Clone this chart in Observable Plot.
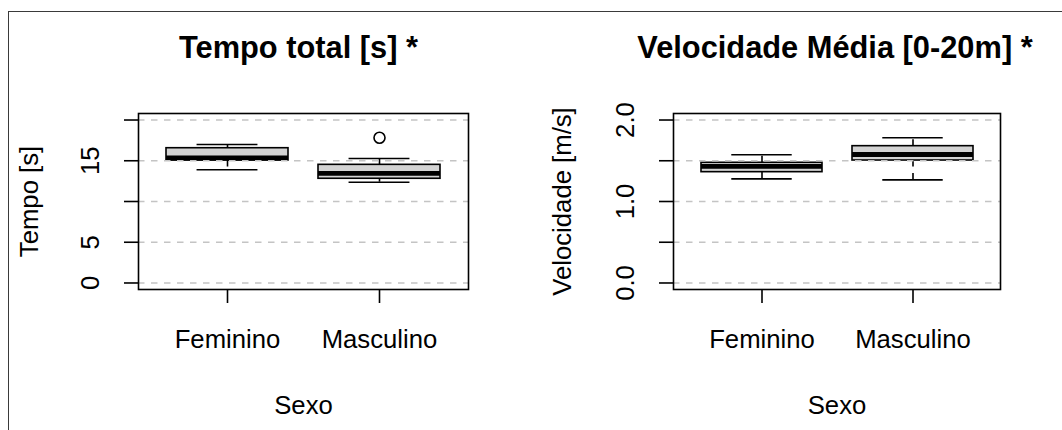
<!DOCTYPE html>
<html><head><meta charset="utf-8">
<script src="https://cdn.jsdelivr.net/npm/d3@7"></script>
<script src="https://cdn.jsdelivr.net/npm/@observablehq/plot@0.6"></script>
<style>
body{margin:0;background:#fff;}
#wrap{position:relative;width:1062px;height:430px;overflow:hidden;background:#fff;font-family:"Liberation Sans",Arial,sans-serif;}
#wrap svg{position:absolute;top:0;}
#border{position:absolute;left:7.5px;top:11px;right:-10px;bottom:-10px;border-top:1.6px solid #3a3a3a;border-left:1.6px solid #3a3a3a;pointer-events:none;z-index:5;}
</style></head><body><div id="wrap"><div id="border"></div></div>
<script>
// categories
const categories = ["Feminino", "Masculino"];

// Tempo total [s] — five-number summaries
const tempoMin = [13.89, 12.37];
const tempoQ1  = [15.03, 12.79];
const tempoMed = [15.34, 13.46];
const tempoQ3  = [16.54, 14.50];
const tempoMax = [16.99, 15.28];
const tempoOutCat = ["Masculino"];
const tempoOutVal = [17.82];
const tempoTicks = [0, 5, 10, 15, 20];
const tempoTickLabelVals = [0, 5, 15];
const tempoTickLabels = ["0", "5", "15"];

// Velocidade Média [0-20m]
const velMin = [1.278, 1.266];
const velQ1  = [1.360, 1.503];
const velMed = [1.430, 1.577];
const velQ3  = [1.475, 1.679];
const velMax = [1.573, 1.782];
const velOutCat = [];
const velOutVal = [];
const velTicks = [0, 0.5, 1, 1.5, 2];
const velTickLabelVals = [0, 1, 2];
const velTickLabels = ["0.0", "1.0", "2.0"];

function rowsOf(mn, q1, md, q3, mx) {
  return categories.map((c, i) => ({sexo: c, min: mn[i], q1: q1[i], med: md[i], q3: q3[i], max: mx[i]}));
}

function panel(cfg) {
  const rows = rowsOf(cfg.min, cfg.q1, cfg.med, cfg.q3, cfg.max);
  const outs = cfg.outCat.map((c, i) => ({sexo: c, v: cfg.outVal[i]}));
  const lw = 1.6;
  const fs = 25.7;
  const plotW = cfg.width - cfg.ml - cfg.mr;
  const step = plotW / 2.16;
  const capInset = step * 0.8 / 4;
  return Plot.plot({
    width: cfg.width,
    height: 430,
    marginLeft: cfg.ml,
    marginRight: cfg.mr,
    marginTop: 113,
    marginBottom: 141,
    style: {background: "transparent", fontFamily: "'Liberation Sans', Arial, sans-serif", overflow: "visible", color: "black"},
    x: {type: "band", domain: categories, paddingInner: 0.2, paddingOuter: 0.18, label: null},
    y: {domain: cfg.ydomain, label: null},
    marks: [
      Plot.barY(rows, {x: "sexo", y1: "q1", y2: "q3", fill: "#d3d3d3"}),
      Plot.tickY(rows, {x: "sexo", y: "med", stroke: "black", strokeWidth: 4.8}),
      Plot.ruleX(rows, {x: "sexo", y1: "q1", y2: "min", stroke: "black", strokeWidth: lw, strokeDasharray: "6.5,6.5"}),
      Plot.ruleX(rows, {x: "sexo", y1: "q3", y2: "max", stroke: "black", strokeWidth: lw, strokeDasharray: "6.5,6.5"}),
      Plot.tickY(rows, {x: "sexo", y: "min", stroke: "black", strokeWidth: lw, inset: capInset}),
      Plot.tickY(rows, {x: "sexo", y: "max", stroke: "black", strokeWidth: lw, inset: capInset}),
      Plot.barY(rows, {x: "sexo", y1: "q1", y2: "q3", fill: "none", stroke: "black", strokeWidth: lw}),
      Plot.dot(outs, {x: "sexo", y: "v", r: 5.5, stroke: "black", fill: "none", strokeWidth: lw}),
      Plot.ruleY(cfg.ticks, {stroke: "#c4c4c4", strokeWidth: lw, strokeDasharray: "6.5,6.5"}),
      Plot.frame({stroke: "black", strokeWidth: lw}),
      Plot.axisY({ticks: cfg.ticks, tickSize: 14, tickFormat: () => "", strokeWidth: lw, label: null}),
      Plot.axisX({tickSize: 14, tickFormat: () => "", strokeWidth: lw, label: null}),
      Plot.text(cfg.tickLabelVals, {y: d => d, text: (d, i) => cfg.tickLabels[i], frameAnchor: "left", dx: -40, rotate: -90, textAnchor: "middle", lineAnchor: "bottom", fontSize: fs, fill: "black"}),
      Plot.text(categories, {x: d => d, text: d => d, frameAnchor: "bottom", dy: 58, textAnchor: "middle", lineAnchor: "bottom", fontSize: fs, fill: "black"}),
      Plot.text([cfg.ylabel], {text: d => d, frameAnchor: "left", dx: cfg.ylabelDx, rotate: -90, textAnchor: "middle", lineAnchor: "bottom", fontSize: fs, fill: "black"}),
      Plot.text([cfg.xlabel], {text: d => d, frameAnchor: "bottom", dy: 124, textAnchor: "middle", lineAnchor: "bottom", fontSize: fs, fill: "black"}),
      Plot.text([cfg.title], {text: d => d, frameAnchor: "top", dx: cfg.titleDx, dy: -56, textAnchor: "middle", lineAnchor: "bottom", fontSize: 30.8, fontWeight: "bold", fill: "black"})
    ]
  });
}

const wrap = document.getElementById("wrap");
const left = panel({
  width: 531, ml: 138, mr: 63,
  min: tempoMin, q1: tempoQ1, med: tempoMed, q3: tempoQ3, max: tempoMax,
  outCat: tempoOutCat, outVal: tempoOutVal,
  ydomain: [-0.8, 20.8], ticks: tempoTicks,
  tickLabelVals: tempoTickLabelVals, tickLabels: tempoTickLabels,
  ylabel: "Tempo [s]", ylabelDx: -101, xlabel: "Sexo", title: "Tempo total [s] *", titleDx: -5
});
left.style.left = "0px";
const right = panel({
  width: 531, ml: 142, mr: 62,
  min: velMin, q1: velQ1, med: velMed, q3: velQ3, max: velMax,
  outCat: velOutCat, outVal: velOutVal,
  ydomain: [-0.08, 2.08], ticks: velTicks,
  tickLabelVals: velTickLabelVals, tickLabels: velTickLabels,
  ylabel: "Velocidade [m/s]", ylabelDx: -103, xlabel: "Sexo", title: "Velocidade Média [0-20m] *", titleDx: -2
});
right.style.left = "531px";
wrap.insertBefore(left, wrap.firstChild);
wrap.insertBefore(right, wrap.firstChild);
</script>
</body></html>
